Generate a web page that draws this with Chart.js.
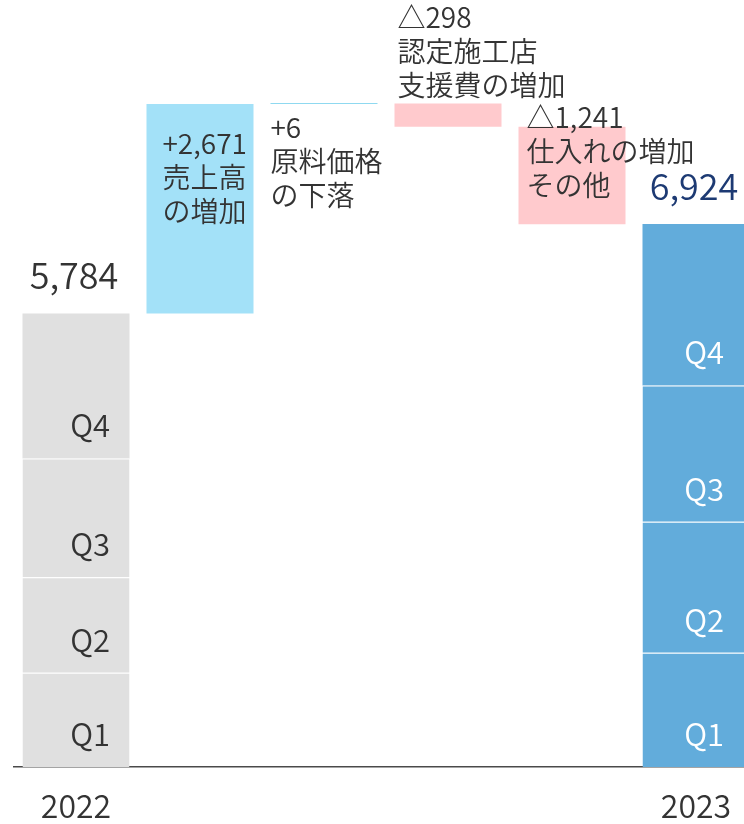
<!DOCTYPE html>
<html>
<head>
<meta charset="utf-8">
<script src="https://cdn.jsdelivr.net/npm/chart.js@4"></script>
<style>
  body { margin: 0; overflow: hidden; background: #fff; }
  #wrap { width: 758px; height: 824px; }
</style>
</head>
<body>
<div id="wrap"><canvas id="chart" width="758" height="824"></canvas></div>
<script>
// categories of the waterfall
const categories = ["2022", "売上高の増加", "原料価格の下落", "認定施工店支援費の増加", "仕入れの増加その他", "2023"];
// only the two years get a tick label
const tickLabels = ["2022", "", "", "", "", "2023"];

// quarterly values (stacked) for both years
const quarters = ["Q1", "Q2", "Q3", "Q4"];
const q2022 = [1202, 1216, 1517, 1849];
const q2023 = [1457, 1670, 1739, 2058];
const totals = [5784, 6924];

// changes between the two years
const changes = [2671, 6, -298, -1241];
const changeLabels = ["+2,671", "+6", "△298", "△1,241"];
const changeNames = [["売上高", "の増加"], ["原料価格", "の下落"], ["認定施工店", "支援費の増加"], ["仕入れの増加", "その他"]];

const FONT = '"Noto Sans CJK JP", "Noto Sans", sans-serif';
const TEXT = "#333333";
const changeColors = ["#a3e1f8", "#8fd9f0", "#ffcacd", "#ffcacd"];
// where each change label sits, relative to the bar's left / top edge
const changeText = [
    { dx: 16, dy: 50 },
    { dx: 0, dy: 35 },
    { dx: 3, dy: -75 },
    { dx: 8, dy: 1 },
];
// right edge of the Q labels, from bar centre
const qRight = [34, 28];

// build floating [start, end] bars for the quarter stacks
function stackRanges(values) {
    let run = 0;
    return values.map(v => { const r = [run, run + v]; run += v; return r; });
}
const r2022 = stackRanges(q2022);
const r2023 = stackRanges(q2023);

const quarterSets = quarters.map((q, i) => ({
    label: q,
    data: [r2022[i], null, null, null, null, r2023[i]],
    backgroundColor: ["#e0e0e0", null, null, null, null, "#62acdb"],
    borderColor: "#ffffff",
    borderWidth: i < 3 ? { top: 1 } : 0,
    borderSkipped: false,
}));

// running total for the change bars
let level = totals[0];
const changeData = [null];
changes.forEach(c => { changeData.push([level, level + c]); level += c; });
changeData.push(null);

const changeSet = {
    label: "change",
    data: changeData,
    backgroundColor: [null].concat(changeColors, [null]),
    borderWidth: 0,
    minBarLength: 1,
};

// draws totals, quarter names and the change notes
const labelPlugin = {
    id: "labels",
    afterDatasetsDraw(chart) {
        const ctx = chart.ctx;
        ctx.save();
        ctx.textBaseline = "alphabetic";

        // quarter labels
        quarters.forEach((q, i) => {
            const meta = chart.getDatasetMeta(i);
            [0, 5].forEach((idx, k) => {
                const el = meta.data[idx];
                const bottom = Math.max(el.y, el.base);
                ctx.font = "350 31px " + FONT;
                ctx.fillStyle = k === 0 ? TEXT : "#ffffff";
                ctx.textAlign = "right";
                ctx.fillText(q, el.x + qRight[k], bottom - 21);
            });
        });

        // totals above the year bars
        const top = chart.getDatasetMeta(3);
        [0, 5].forEach((idx, k) => {
            const el = top.data[idx];
            ctx.font = "350 36px " + FONT;
            ctx.fillStyle = k === 0 ? TEXT : "#1d3a73";
            ctx.textAlign = "center";
            ctx.fillText(totals[k].toLocaleString("en-US"), el.x - 2, Math.min(el.y, el.base) - 24);
        });

        // change notes
        const cm = chart.getDatasetMeta(4);
        changes.forEach((c, i) => {
            const el = cm.data[i + 1];
            const left = el.x - el.width / 2;
            const barTop = Math.min(el.y, el.base);
            const lines = [changeLabels[i]].concat(changeNames[i]);
            ctx.font = "350 28px " + FONT;
            ctx.fillStyle = TEXT;
            ctx.textAlign = "left";
            lines.forEach((t, n) => {
                ctx.fillText(t, left + changeText[i].dx, barTop + changeText[i].dy + n * 34);
            });
        });
        ctx.restore();
    },
};

new Chart(document.getElementById("chart"), {
    type: "bar",
    data: {
        labels: categories,
        datasets: quarterSets.concat([changeSet]),
    },
    options: {
        responsive: false,
        animation: false,
        devicePixelRatio: 1,
        layout: { padding: { left: 14, right: 0, top: 0, bottom: 0 } },
        categoryPercentage: 1,
        barPercentage: 0.863,
        plugins: {
            legend: { display: false },
            tooltip: { enabled: false },
        },
        scales: {
            x: {
                stacked: true,
                grid: { display: false, drawTicks: false },
                border: { display: true, color: "#4a4a4a", width: 1.5 },
                ticks: {
                    autoSkip: false,
                    maxRotation: 0,
                    padding: 23,
                    color: TEXT,
                    font: { family: FONT, size: 32, weight: "350", lineHeight: 1 },
                    callback: (v, i) => tickLabels[i],
                },
                afterFit(scale) { scale.height = 57; },
            },
            y: {
                display: false,
                stacked: false,
                min: 0,
                max: 9780,
            },
        },
    },
    plugins: [labelPlugin],
});
</script>
</body>
</html>
